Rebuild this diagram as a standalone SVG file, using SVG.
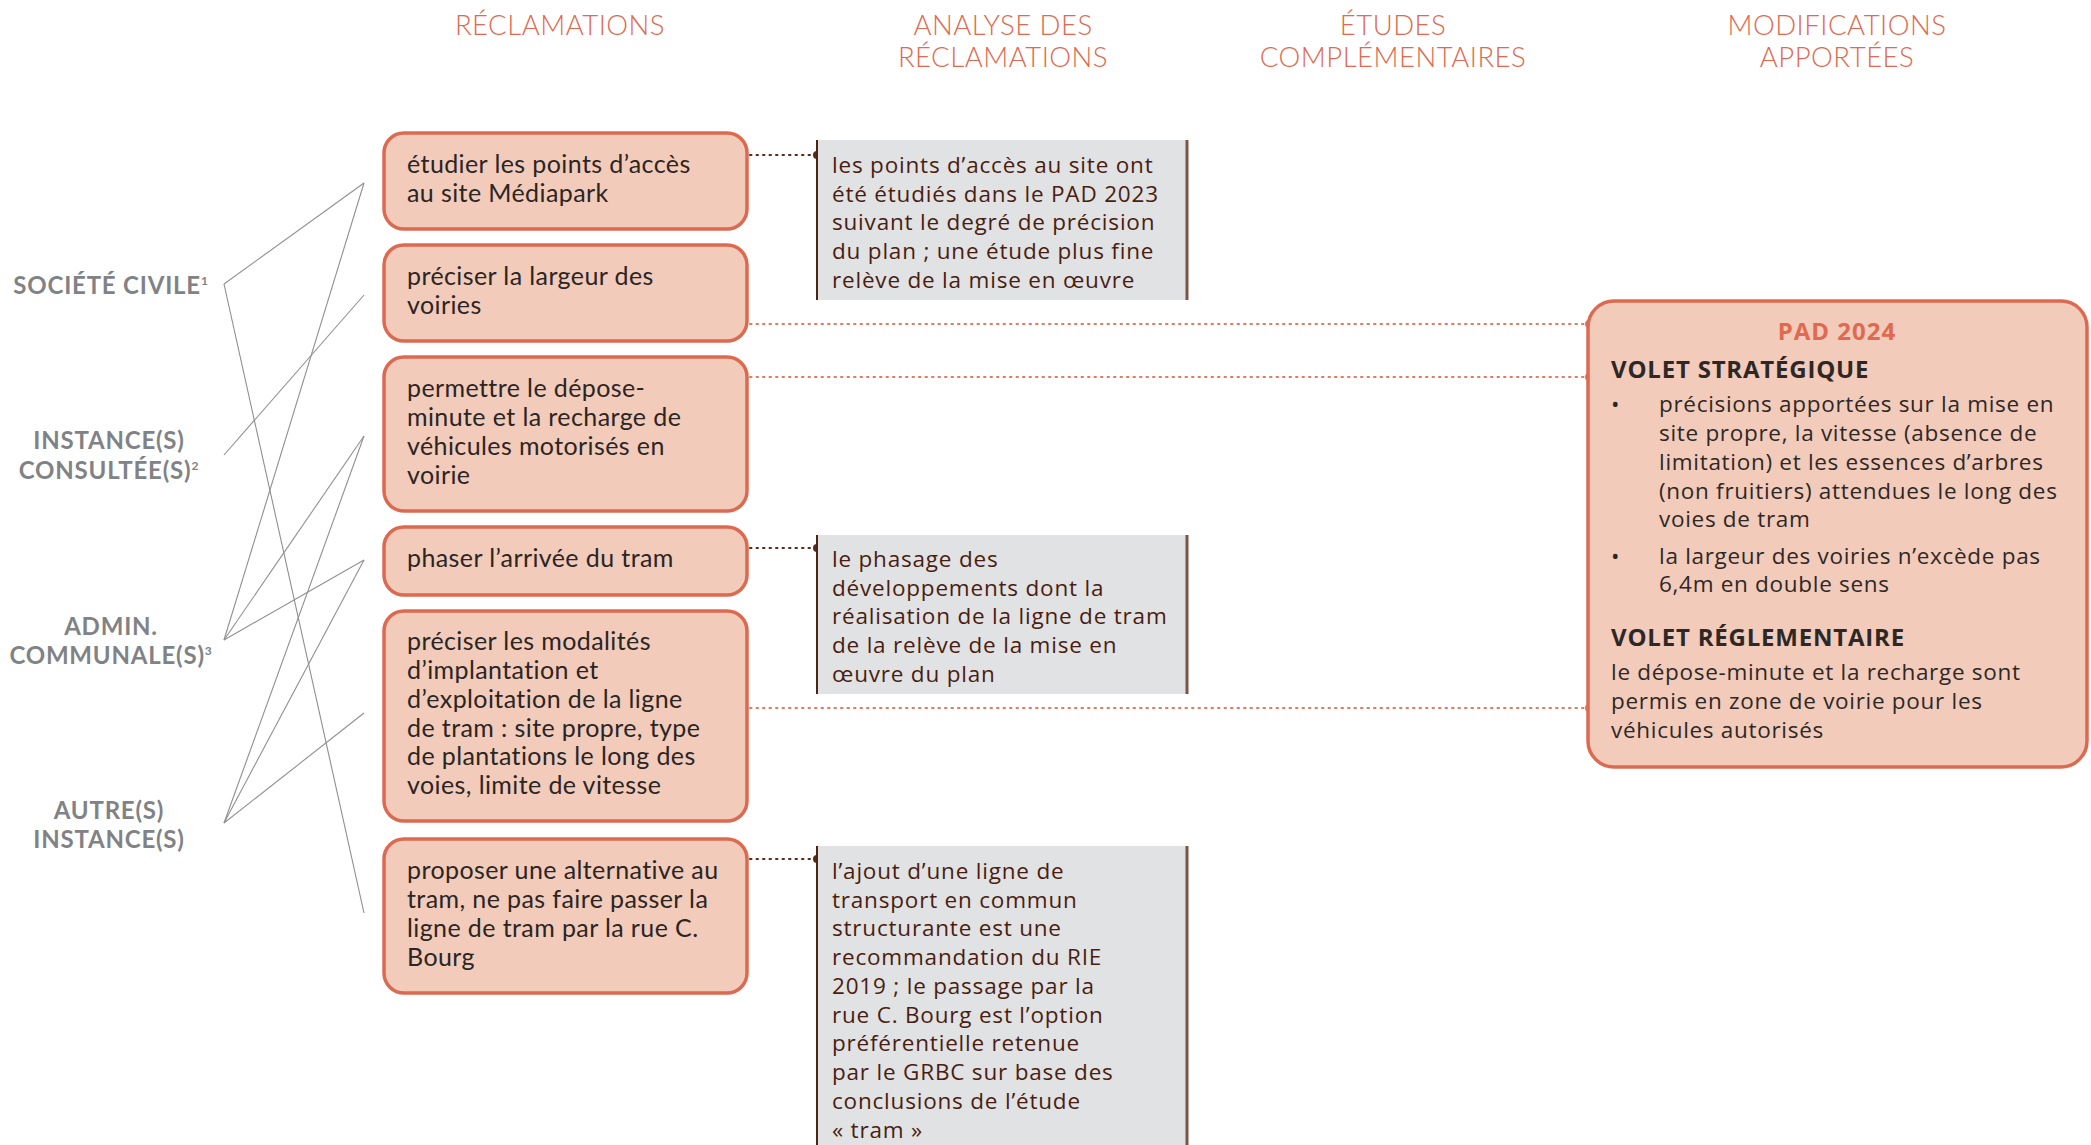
<svg xmlns="http://www.w3.org/2000/svg" width="2091" height="1145" viewBox="0 0 2091 1145">
<style>
.hdr{font-family:Lato,"Open Sans",sans-serif;font-weight:300;font-size:27.5px;fill:#e0694f;text-anchor:middle;letter-spacing:0.5px}
.lbl{font-family:Lato,"Open Sans",sans-serif;font-weight:700;font-size:24px;fill:#808285;text-anchor:middle;letter-spacing:0.8px}
.sup{font-size:12px}
.claim rect{fill:#f2cbbb;stroke:#dc6a50;stroke-width:3.5}
.claim text{font-family:Lato,"Open Sans",sans-serif;font-size:25px;letter-spacing:0.4px;fill:#2b2523}
.ana rect{fill:#e1e2e4}
.ana text{font-family:"Open Sans",Lato,sans-serif;font-size:22.5px;letter-spacing:0.8px;fill:#4a1d10}
.lft{stroke:#4a2418;stroke-width:2}
.rgt{stroke:#7d5445;stroke-width:3}
.pad text{font-family:"Open Sans",Lato,sans-serif;font-size:22.5px;letter-spacing:0.7px;fill:#2d2826}
.pad .t{font-weight:700;font-size:24px;letter-spacing:0.8px}
.fan line{stroke:#8f8f8f;stroke-width:1.1}
.dk{stroke:#5a2a1a;stroke-width:2;stroke-dasharray:1.5 5;stroke-linecap:round}
.or{stroke:#e07a60;stroke-width:2;stroke-dasharray:1.5 5;stroke-linecap:round}
</style>
<g id="headers">
<text class="hdr" x="560" y="35">RÉCLAMATIONS</text>
<text class="hdr" x="1003" y="35">ANALYSE DES</text>
<text class="hdr" x="1003" y="67">RÉCLAMATIONS</text>
<text class="hdr" x="1393" y="35">ÉTUDES</text>
<text class="hdr" x="1393" y="67">COMPLÉMENTAIRES</text>
<text class="hdr" x="1837" y="35">MODIFICATIONS</text>
<text class="hdr" x="1837" y="67">APPORTÉES</text>
</g>
<g id="actor-societe"><text class="lbl" x="111" y="294">SOCIÉTÉ CIVILE<tspan class="sup" dy="-9">1</tspan></text></g>
<g id="actor-instance"><text class="lbl" x="109" y="449">INSTANCE(S)</text><text class="lbl" x="109" y="479">CONSULTÉE(S)<tspan class="sup" dy="-9">2</tspan></text></g>
<g id="actor-admin"><text class="lbl" x="111" y="635">ADMIN.</text><text class="lbl" x="111" y="664">COMMUNALE(S)<tspan class="sup" dy="-9">3</tspan></text></g>
<g id="actor-autres"><text class="lbl" x="109" y="819">AUTRE(S)</text><text class="lbl" x="109" y="848">INSTANCE(S)</text></g>

<g id="connectors">
<g class="fan">
<line x1="224" y1="284" x2="364" y2="183"/>
<line x1="224" y1="284" x2="364" y2="913"/>
<line x1="224" y1="455" x2="364" y2="295"/>
<line x1="224" y1="640" x2="364" y2="183"/>
<line x1="224" y1="640" x2="364" y2="436"/>
<line x1="224" y1="640" x2="364" y2="560"/>
<line x1="224" y1="823" x2="364" y2="436"/>
<line x1="224" y1="823" x2="364" y2="560"/>
<line x1="224" y1="823" x2="364" y2="713"/>
</g>
<line class="dk" x1="750" y1="155" x2="816" y2="155"/><circle cx="817" cy="155" r="4" fill="#5a2a1a"/>
<line class="dk" x1="750" y1="548" x2="816" y2="548"/><circle cx="817" cy="548" r="4" fill="#5a2a1a"/>
<line class="dk" x1="750" y1="859" x2="816" y2="859"/><circle cx="817" cy="859" r="4" fill="#5a2a1a"/>
<line class="or" x1="750" y1="324" x2="1586" y2="324"/><circle cx="1589" cy="324" r="4" fill="#e07a60"/>
<line class="or" x1="750" y1="377" x2="1586" y2="377"/><circle cx="1589" cy="377" r="4" fill="#e07a60"/>
<line class="or" x1="750" y1="708" x2="1586" y2="708"/><circle cx="1589" cy="708" r="4" fill="#e07a60"/>
</g>

<g id="claim1" class="claim"><rect x="384" y="133" width="363" height="96" rx="20"/><text x="407" y="173">étudier les points d’accès</text><text x="407" y="202">au site Médiapark</text></g>
<g id="claim2" class="claim"><rect x="384" y="245" width="363" height="96" rx="20"/><text x="407" y="285">préciser la largeur des</text><text x="407" y="314">voiries</text></g>
<g id="claim3" class="claim"><rect x="384" y="357" width="363" height="154" rx="20"/><text x="407" y="397">permettre le dépose-</text><text x="407" y="426">minute et la recharge de</text><text x="407" y="455">véhicules motorisés en</text><text x="407" y="484">voirie</text></g>
<g id="claim4" class="claim"><rect x="384" y="527" width="363" height="68" rx="20"/><text x="407" y="567">phaser l’arrivée du tram</text></g>
<g id="claim5" class="claim"><rect x="384" y="611" width="363" height="210" rx="20"/><text x="407" y="650">préciser les modalités</text><text x="407" y="679">d’implantation et</text><text x="407" y="708">d’exploitation de la ligne</text><text x="407" y="737">de tram : site propre, type</text><text x="407" y="765">de plantations le long des</text><text x="407" y="794">voies, limite de vitesse</text></g>
<g id="claim6" class="claim"><rect x="384" y="839" width="363" height="154" rx="20"/><text x="407" y="879">proposer une alternative au</text><text x="407" y="908">tram, ne pas faire passer la</text><text x="407" y="937">ligne de tram par la rue C.</text><text x="407" y="966">Bourg</text></g>

<g id="analysis1" class="ana"><rect x="816" y="140" width="371" height="160"/><line class="lft" x1="817" y1="140" x2="817" y2="300"/><line class="rgt" x1="1187" y1="140" x2="1187" y2="300"/>
<text x="832" y="173">les points d’accès au site ont</text><text x="832" y="202">été étudiés dans le PAD 2023</text><text x="832" y="230">suivant le degré de précision</text><text x="832" y="259">du plan ; une étude plus fine</text><text x="832" y="288">relève de la mise en œuvre</text></g>
<g id="analysis2" class="ana"><rect x="816" y="535" width="371" height="159"/><line class="lft" x1="817" y1="535" x2="817" y2="694"/><line class="rgt" x1="1187" y1="535" x2="1187" y2="694"/>
<text x="832" y="567">le phasage des</text><text x="832" y="596">développements dont la</text><text x="832" y="624">réalisation de la ligne de tram</text><text x="832" y="653">de la relève de la mise en</text><text x="832" y="682">œuvre du plan</text></g>
<g id="analysis3" class="ana"><rect x="816" y="846" width="371" height="299"/><line class="lft" x1="817" y1="846" x2="817" y2="1145"/><line class="rgt" x1="1187" y1="846" x2="1187" y2="1145"/>
<text x="832" y="879">l’ajout d’une ligne de</text><text x="832" y="908">transport en commun</text><text x="832" y="936">structurante est une</text><text x="832" y="965">recommandation du RIE</text><text x="832" y="994">2019 ; le passage par la</text><text x="832" y="1023">rue C. Bourg est l’option</text><text x="832" y="1051">préférentielle retenue</text><text x="832" y="1080">par le GRBC sur base des</text><text x="832" y="1109">conclusions de l’étude</text><text x="832" y="1138">« tram »</text></g>

<g id="pad2024" class="pad">
<rect x="1588" y="301" width="499" height="466" rx="26" fill="#f2cbbb" stroke="#dc6a50" stroke-width="3.5"/>
<text x="1837" y="340" text-anchor="middle" style="font-weight:700;font-size:24px;letter-spacing:1px;fill:#e0694f">PAD 2024</text>
<text class="t" x="1611" y="378">VOLET STRATÉGIQUE</text>
<text x="1611" y="412">•</text>
<text x="1659" y="412">précisions apportées sur la mise en</text>
<text x="1659" y="441">site propre, la vitesse (absence de</text>
<text x="1659" y="470">limitation) et les essences d’arbres</text>
<text x="1659" y="499">(non fruitiers) attendues le long des</text>
<text x="1659" y="527">voies de tram</text>
<text x="1611" y="564">•</text>
<text x="1659" y="564">la largeur des voiries n’excède pas</text>
<text x="1659" y="592">6,4m en double sens</text>
<text class="t" x="1611" y="646">VOLET RÉGLEMENTAIRE</text>
<text x="1611" y="680">le dépose-minute et la recharge sont</text>
<text x="1611" y="709">permis en zone de voirie pour les</text>
<text x="1611" y="738">véhicules autorisés</text>
</g>
</svg>
